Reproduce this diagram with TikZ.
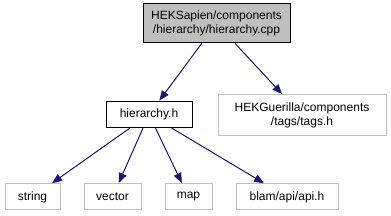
\documentclass[tikz,border=0pt]{standalone}
\usepackage{fontspec}
\setmainfont{Liberation Sans}
\usepackage{xcolor}
\usepackage{tikz}
\usetikzlibrary{positioning, arrows.meta}
\definecolor{edgeblue}{HTML}{191970}
\definecolor{filegrey}{HTML}{BFBFBF}
\definecolor{boxgrey}{HTML}{C0C0C0}

\begin{document}
\begin{tikzpicture}[x=1pt, y=-1pt,
    font=\fontsize{12}{14.5}\selectfont,
    incnode/.style={draw=boxgrey, fill=white, line width=1pt, align=center,
                    inner sep=0pt, minimum height=26pt},
    dep/.style={-{Triangle[length=10pt, width=8pt]}, draw=edgeblue, fill=edgeblue,
                line width=1pt, shorten >=0.5pt}]
      \useasboundingbox (0,0) rectangle (391,216);
      % the file itself
      \node[draw=black, fill=filegrey, line width=1pt, align=center, inner sep=0pt,
            minimum width=147pt, minimum height=39pt] (cpp) at (216.5,23.5)
        {HEKSapien/components\\/hierarchy/hierarchy.cpp};
      \node[draw=black, fill=white, line width=1pt, inner sep=0pt,
            minimum width=86pt, minimum height=26pt] (hdr) at (149,114.5) {hierarchy.h};
      \node[incnode, minimum width=168pt, minimum height=41pt] (tags) at (302,115.5)
        {HEKGuerilla/components\\/tags/tags.h};
      % system includes
      \node[incnode, minimum width=55pt] (string) at (32.5,197) {string};
      \node[incnode, minimum width=57pt] (vector) at (112.5,197) {vector};
      \node[incnode, minimum width=47pt] (map) at (188.5,197) {map};
      \node[incnode, minimum width=102pt] (api) at (287,197) {blam/api/api.h};
      \draw[dep] (cpp) -- (hdr);
      \draw[dep] (cpp) -- (tags);
      \draw[dep] (hdr) -- (string);
      \draw[dep] (hdr) -- (vector);
      \draw[dep] (hdr) -- (map);
      \draw[dep] (hdr) -- (api);
    \end{tikzpicture}
\end{document}
